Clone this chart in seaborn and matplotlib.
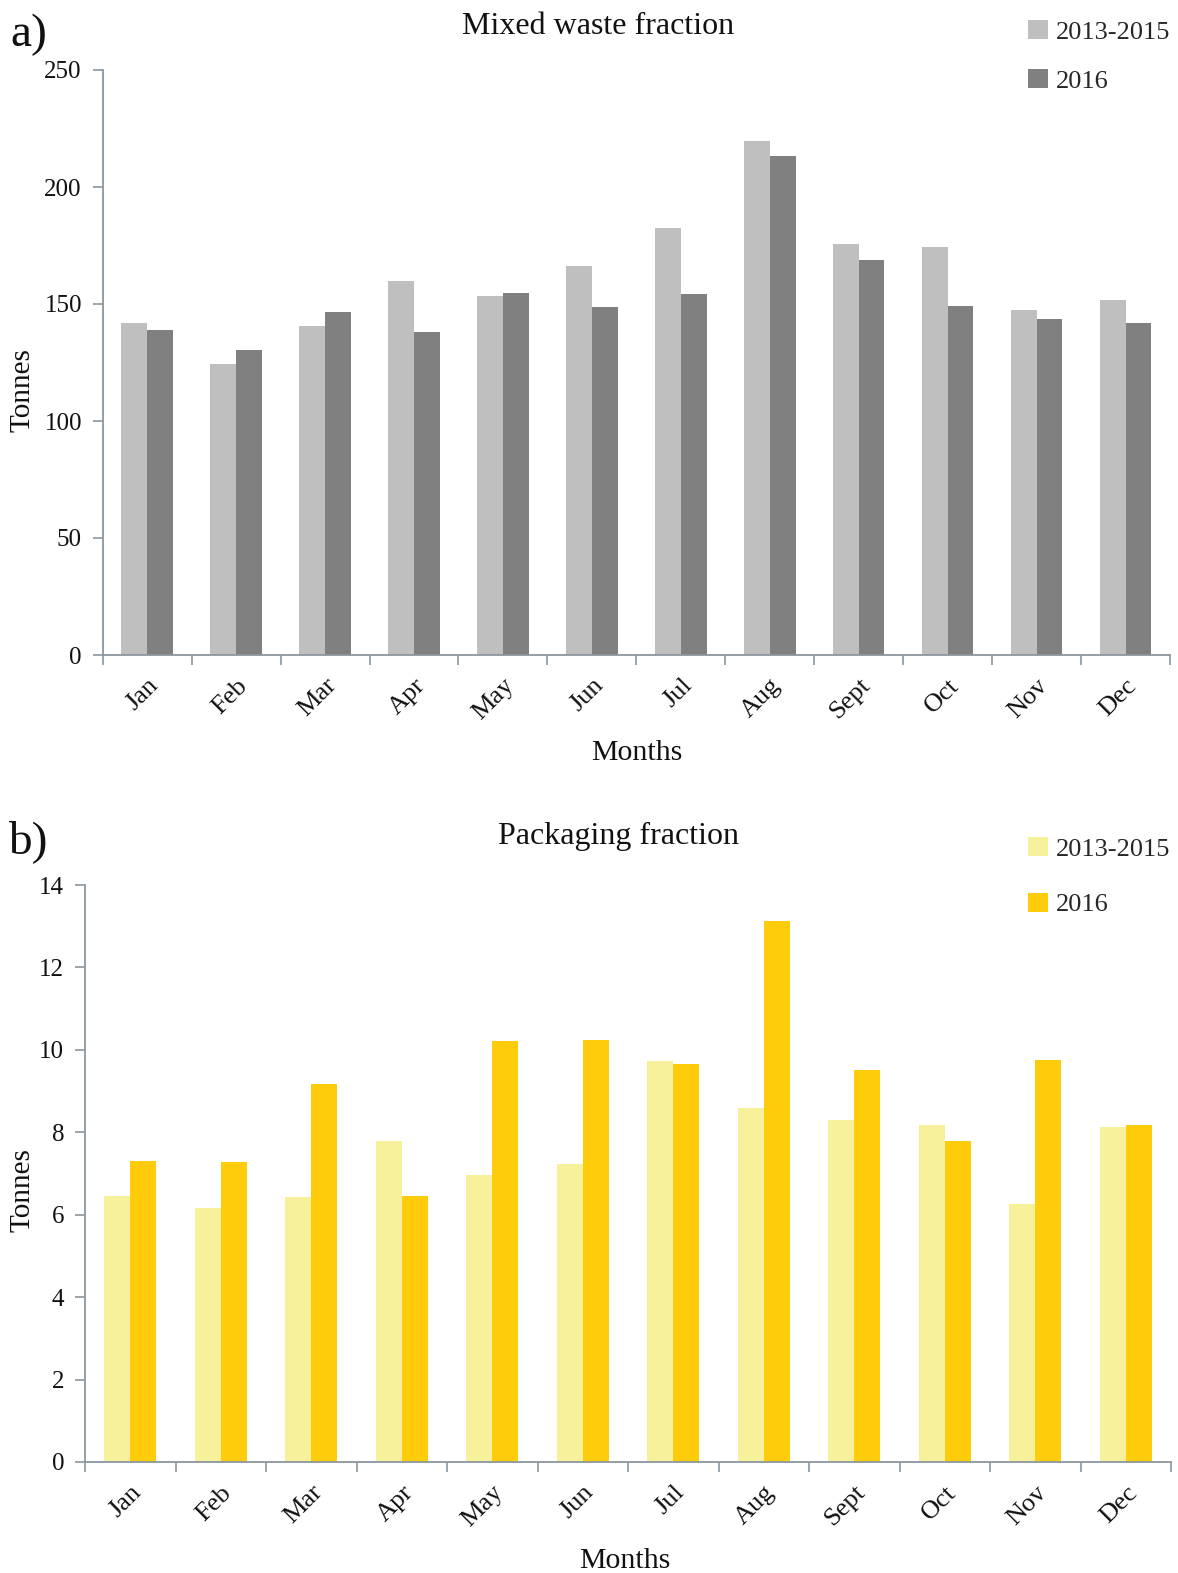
import matplotlib
matplotlib.use("Agg")
import matplotlib.pyplot as plt
import seaborn as sns
import pandas as pd
import numpy as np

months = ["Jan", "Feb", "Mar", "Apr", "May", "Jun", "Jul", "Aug", "Sept", "Oct", "Nov", "Dec"]
series_names = ["2013-2015", "2016"]

mixed_2013_2015 = [141.8, 124.4, 140.6, 159.8, 153.4, 166.1, 182.6, 219.7, 175.6, 174.5, 147.6, 151.9]
mixed_2016 = [139.0, 130.5, 146.7, 138.2, 154.9, 148.7, 154.3, 213.4, 169.0, 149.1, 143.8, 142.0]

pack_2013_2015 = [6.46, 6.17, 6.43, 7.79, 6.96, 7.24, 9.72, 8.60, 8.30, 8.18, 6.26, 8.12]
pack_2016 = [7.31, 7.28, 9.18, 6.45, 10.22, 10.25, 9.65, 13.13, 9.51, 7.79, 9.75, 8.17]

mixed_ticks = [0, 50, 100, 150, 200, 250]
pack_ticks = [0, 2, 4, 6, 8, 10, 12, 14]

gray_colors = ["#BFBFBF", "#808080"]
yellow_colors = ["#F7F19C", "#FFCC0C"]

sns.set_theme(style="white")
plt.rcParams["font.family"] = ["Liberation Serif", "DejaVu Serif"]

W, H = 1178, 1573
fig = plt.figure(figsize=(W / 100, H / 100), dpi=100)

spine_col = "#8A96A0"


def long_df(a, b):
    return pd.DataFrame({
        "Month": months * 2,
        "Series": [series_names[0]] * len(months) + [series_names[1]] * len(months),
        "Tonnes": list(a) + list(b),
    })


def panel(rect, a, b, colors, ticks, title, title_xy, letter_xy, letter, leg_xy,
          leg_spacing, ylab_coords, xlab_coords):
    ax = fig.add_axes(rect)
    df = long_df(a, b)
    sns.barplot(data=df, x="Month", y="Tonnes", hue="Series", order=months,
                hue_order=series_names, palette=colors, width=0.58,
                saturation=1, ax=ax, linewidth=0, legend=True)
    ax.set_xlim(-0.5, len(months) - 0.5)
    ax.set_ylim(ticks[0], ticks[-1])
    ax.set_yticks(ticks)
    ax.set_yticklabels([str(t) for t in ticks], fontsize=18, color="#111111")
    ax.set_xticks(np.arange(len(months)))
    ax.set_xticklabels(months, rotation=45, ha="right", rotation_mode="anchor",
                       fontsize=19, color="#111111")
    ax.set_xticks(np.arange(-0.5, len(months), 1.0), minor=True)
    ax.tick_params(axis="x", which="major", length=0, pad=14)
    ax.tick_params(axis="x", which="minor", length=7, width=1.2, color=spine_col,
                   direction="out", bottom=True)
    ax.tick_params(axis="y", which="major", length=7, width=1.2, color=spine_col,
                   direction="out", left=True, pad=8)
    for s in ["top", "right"]:
        ax.spines[s].set_visible(False)
    for s in ["left", "bottom"]:
        ax.spines[s].set_color(spine_col)
        ax.spines[s].set_linewidth(1.3)
    ax.grid(False)
    ax.set_ylabel("Tonnes", fontsize=21, color="#111111")
    ax.yaxis.set_label_coords(*ylab_coords)
    ax.set_xlabel("Months", fontsize=21.5, color="#111111")
    ax.xaxis.set_label_coords(*xlab_coords)
    ax.xaxis.label.set_va("center")
    ax.yaxis.label.set_va("center")

    handles, labels = ax.get_legend_handles_labels()
    ax.legend_.remove()
    fig.legend(handles, labels, loc="upper left",
               bbox_to_anchor=(leg_xy[0] / W, 1 - leg_xy[1] / H),
               bbox_transform=fig.transFigure, frameon=False, fontsize=19,
               handlelength=0.75, handleheight=0.75, handletextpad=0.3,
               labelspacing=leg_spacing, borderaxespad=0, borderpad=0)

    fig.text(title_xy[0] / W, 1 - title_xy[1] / H, title, ha="center", va="center",
             fontsize=23, color="#111111")
    fig.text(letter_xy[0] / W, 1 - letter_xy[1] / H, letter, ha="left", va="center",
             fontsize=34, color="#111111")
    return ax


def rect_from_px(l, t, r, b):
    return [l / W, 1 - b / H, (r - l) / W, (b - t) / H]


panel(rect_from_px(102.7, 70, 1170, 655), mixed_2013_2015, mixed_2016, gray_colors,
      mixed_ticks, "Mixed waste fraction", (598, 26), (10, 35), "a)", (1028, 20), 0.94,
      (-0.0756, 0.453), (0.5006, -0.168))

panel(rect_from_px(85, 885, 1171, 1462), pack_2013_2015, pack_2016, yellow_colors,
      pack_ticks, "Packaging fraction", (618, 836), (8, 842), "b)", (1028, 837), 1.2,
      (-0.058, 0.471), (0.497, -0.171))

fig.savefig("out.png", dpi=100, facecolor="white")
